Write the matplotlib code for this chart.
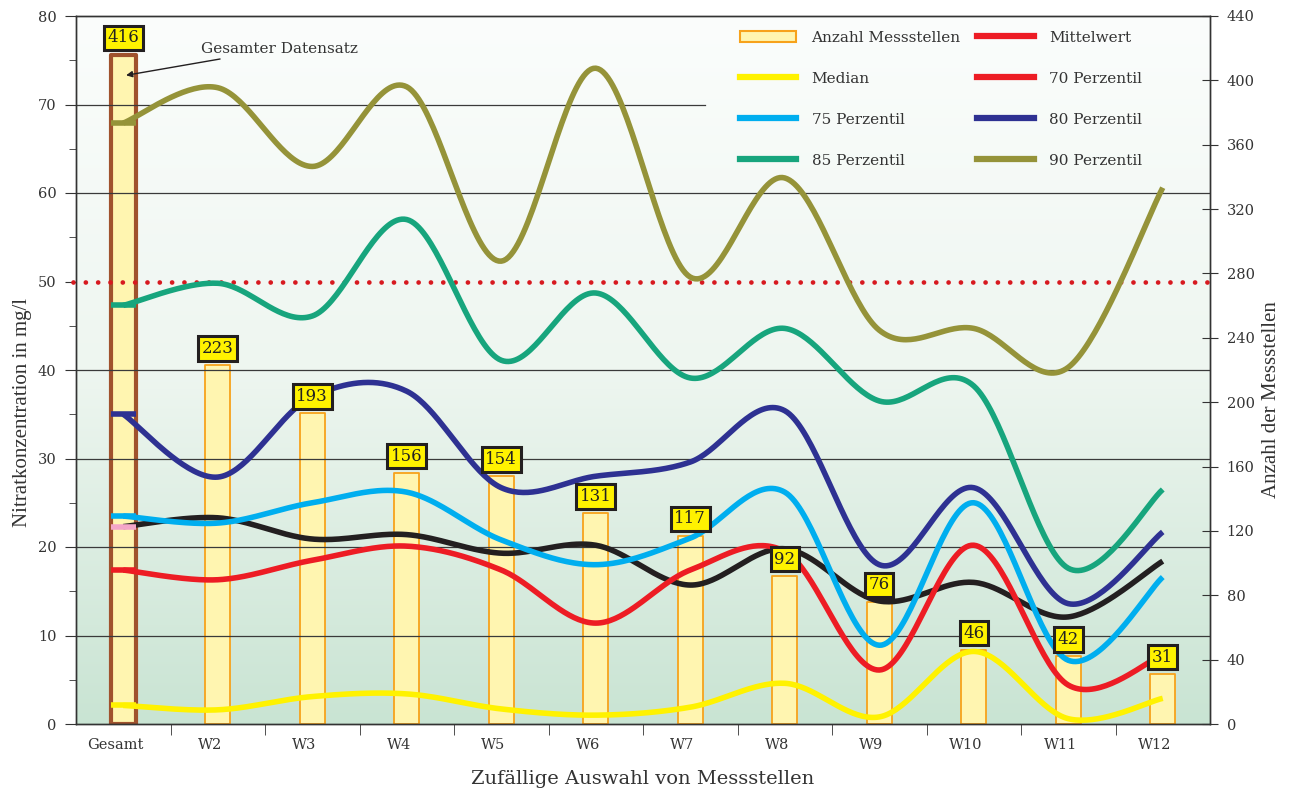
"""
Nitrat: Perzentile je Zufallsauswahl von Messstellen, mit Anzahl als Balken.
"""

import numpy as np
import matplotlib

matplotlib.use("Agg")
import matplotlib.pyplot as plt
from matplotlib.colors import LinearSegmentedColormap
from matplotlib.lines import Line2D
from matplotlib.patches import Patch
from matplotlib.transforms import ScaledTranslation

categories = ["Gesamt", "W2", "W3", "W4", "W5", "W6", "W7", "W8", "W9", "W10", "W11", "W12"]
counts = [416, 223, 193, 156, 154, 131, 117, 92, 76, 46, 42, 31]

mittelwert = [22.3, 23.3, 20.9, 21.4, 19.3, 20.2, 15.7, 19.8, 13.9, 16.0, 12.1, 18.4]
median = [2.1, 1.6, 3.1, 3.4, 1.7, 1.0, 1.9, 4.6, 0.8, 8.2, 0.6, 2.9]
p70 = [17.4, 16.3, 18.5, 20.1, 17.4, 11.4, 17.4, 19.5, 6.1, 20.2, 4.4, 7.8]
p75 = [23.5, 22.7, 25.0, 26.2, 20.8, 18.0, 21.0, 26.2, 8.9, 25.0, 7.2, 16.6]
p80 = [35.0, 27.9, 37.0, 37.6, 26.7, 28.0, 29.6, 35.4, 18.0, 26.7, 13.6, 21.7]
p85 = [47.3, 49.8, 46.1, 57.0, 41.1, 48.7, 39.1, 44.7, 36.5, 38.2, 17.6, 26.5]
p90 = [67.9, 71.9, 63.0, 72.0, 52.3, 74.1, 50.5, 61.7, 44.5, 44.7, 40.3, 60.6]

grenzwert = 50

# colours
C_BAR = "#fff5b0"
C_BAR_EDGE = "#f7a21b"
C_GESAMT_EDGE = "#a0522d"
C_LABEL = "#fff200"
C_TEXT = "#333333"


def smooth(x, y, n=40):
    """Catmull-Rom curve through the points (like a smoothed line in a spreadsheet)."""
    p = np.column_stack([x, y]).astype(float)
    p = np.vstack([p[0], p, p[-1]])
    t = np.linspace(0, 1, n)[:, None]
    out = []
    for i in range(1, len(p) - 2):
        p0, p1, p2, p3 = p[i - 1], p[i], p[i + 1], p[i + 2]
        seg = 0.5 * (2 * p1 + (-p0 + p2) * t + (2 * p0 - 5 * p1 + 4 * p2 - p3) * t**2
                     + (-p0 + 3 * p1 - 3 * p2 + p3) * t**3)
        out.append(seg if i == 1 else seg[1:])
    out = np.vstack(out)
    return out[:, 0], out[:, 1]


W, H = 1293, 791
fig = plt.figure(figsize=(W / 100, H / 100), dpi=100)
rect = [76 / W, 1 - 724 / H, (1210 - 76) / W, (724 - 16) / H]

# background gradient
bg = fig.add_axes(rect)
grad = np.linspace(0, 1, 256).reshape(-1, 1)
cmap = LinearSegmentedColormap.from_list("bg", ["#fbfdfc", "#eef6f0", "#c9e4d3"])
bg.imshow(grad, extent=[0, 1, 0, 1], aspect="auto", cmap=cmap, origin="upper")
bg.axis("off")
bg.set_zorder(0)

ax = fig.add_axes(rect)
ax2 = ax.twinx()
ax.set_zorder(2)
ax2.set_zorder(1)
ax.patch.set_visible(False)
ax2.patch.set_visible(False)

x = np.arange(len(categories))

# bars on the right axis
bar_w = 0.26
edges = [C_GESAMT_EDGE] + [C_BAR_EDGE] * (len(counts) - 1)
lws = [3.0] + [1.3] * (len(counts) - 1)
ax2.bar(x, counts, width=bar_w, color=C_BAR, edgecolor=edges, linewidth=lws,
        joinstyle="round", zorder=2)
ax2.set_ylim(0, 440)

# grid lines
for v in [10, 20, 30, 40, 60]:
    ax.axhline(v, color="#3a3a3a", lw=0.9, zorder=1)
ax.axhline(70, xmin=0, xmax=0.555, color="#3a3a3a", lw=0.9, zorder=1)
ax.axhline(grenzwert, xmin=-0.003, xmax=1.0, color="#d7191f", lw=3.4,
           linestyle=(0, (0.01, 2.6)), dash_capstyle="round", zorder=2, clip_on=False)

series = [
    (mittelwert, "#231f20"),
    (median, "#fff200"),
    (p70, "#ed1c24"),
    (p75, "#00aeef"),
    (p80, "#2e3192"),
    (p85, "#17a57d"),
    (p90, "#959339"),
]
for k, (vals, col) in enumerate(series):
    sx, sy = smooth(x, vals)
    ax.plot(sx, sy, color=col, lw=4.0, solid_capstyle="butt", zorder=3 + k)
    stub_col = "#f4a6c8" if k == 0 else col
    ax.plot([x[0] - bar_w / 2, x[0] + bar_w / 2], [vals[0], vals[0]],
            color=stub_col, lw=4.0, solid_capstyle="butt", zorder=3 + k)

# count labels above the bars
for i, n in enumerate(counts):
    ax.annotate(str(n), xy=(x[i], n), xycoords=ax2.transData,
                xytext=(0, 6), textcoords="offset points", ha="center", va="bottom",
                fontsize=12, family="DejaVu Serif", color="#222222", zorder=20,
                bbox=dict(boxstyle="square,pad=0.22", fc=C_LABEL, ec="#231f20", lw=2.2))

ax.annotate("Gesamter Datensatz", xy=(0.03, 73.3), xytext=(0.82, 76.3),
            ha="left", va="center", fontsize=11, family="DejaVu Serif", color=C_TEXT,
            arrowprops=dict(arrowstyle="-|>", color="#231f20", lw=1, mutation_scale=9,
                            shrinkA=2, shrinkB=0),
            zorder=20)

# axes
ax.set_xlim(-0.5, len(categories) - 0.5)
ax.set_ylim(0, 80)
ax.set_yticks(range(0, 81, 10))
ax.set_yticks(np.arange(5, 80, 10), minor=True)
ax.set_xticks(x)
ax.set_xticklabels(categories)
ax.set_xticks(np.arange(0.5, len(categories) - 1, 1), minor=True)
ax.tick_params(axis="x", which="major", length=0, pad=10, labelsize=10.5, labelcolor=C_TEXT)
ax.tick_params(axis="x", which="minor", length=8, direction="out", color="#333333")
ax.tick_params(axis="y", which="major", length=8, direction="out", labelsize=10.5,
               labelcolor=C_TEXT, color="#333333", pad=6)
ax.tick_params(axis="y", which="minor", length=5, direction="out", color="#333333")
for lab in ax.get_xticklabels():
    lab.set_transform(lab.get_transform() + ScaledTranslation(-8 / 100, 0, fig.dpi_scale_trans))
for lab in ax.get_xticklabels() + ax.get_yticklabels():
    lab.set_family("DejaVu Serif")

ax2.set_yticks(range(0, 441, 40))
ax2.tick_params(axis="y", length=12, direction="inout", labelsize=10.5,
                labelcolor=C_TEXT, color="#333333", pad=6)
for lab in ax2.get_yticklabels():
    lab.set_family("DejaVu Serif")

for a in (ax, ax2):
    for s in a.spines.values():
        s.set_color("#333333")
        s.set_linewidth(1.0)

ax.set_xlabel("Zufällige Auswahl von Messstellen", fontsize=14, family="DejaVu Serif",
              color=C_TEXT, labelpad=13)
ax.set_ylabel("Nitratkonzentration in mg/l", fontsize=15, family="Liberation Serif",
              color=C_TEXT, labelpad=6)
ax.yaxis.set_label_coords(-0.039, 0.44)
ax2.set_ylabel("Anzahl der Messstellen", fontsize=15, family="Liberation Serif",
               color=C_TEXT, labelpad=10)
ax2.yaxis.set_label_coords(1.046, 0.458)

# legend
handles = [
    Patch(facecolor=C_BAR, edgecolor=C_BAR_EDGE, linewidth=1.5),
    Line2D([], [], color="#fff200", lw=4.5),
    Line2D([], [], color="#00aeef", lw=4.5),
    Line2D([], [], color="#17a57d", lw=4.5),
    Line2D([], [], color="#ed1c24", lw=4.5),
    Line2D([], [], color="#ed1c24", lw=4.5),
    Line2D([], [], color="#2e3192", lw=4.5),
    Line2D([], [], color="#959339", lw=4.5),
]
labels = ["Anzahl Messstellen", "Median", "75 Perzentil", "85 Perzentil",
          "Mittelwert", "70 Perzentil", "80 Perzentil", "90 Perzentil"]
leg = ax.legend(handles, labels, ncol=2, loc="upper left",
                bbox_to_anchor=(726 / W, 1 - 17 / H), bbox_transform=fig.transFigure,
                frameon=False, fontsize=11, handlelength=3.7, handleheight=0.8,
                handletextpad=1.0, columnspacing=1.1, labelspacing=1.75)
for t in leg.get_texts():
    t.set_family("DejaVu Serif")
    t.set_color(C_TEXT)
leg.set_zorder(30)

fig.savefig("out.png", dpi=100)
print("Saved: out.png")
